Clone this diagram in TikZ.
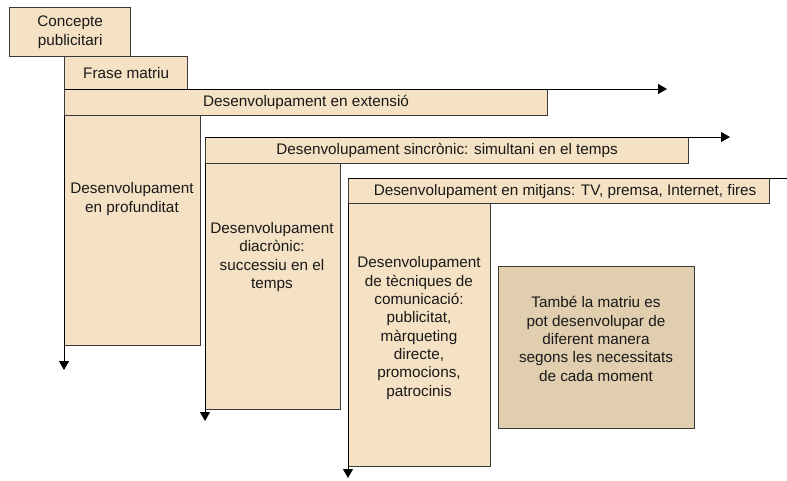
\documentclass[tikz,border=0pt]{standalone}
\usepackage{fontspec}
\setmainfont{Liberation Sans}
\usetikzlibrary{arrows.meta}
\definecolor{boxfill}{HTML}{F5E1C3}
\definecolor{tanfill}{HTML}{E0CEAE}
\definecolor{edge}{HTML}{3A3A3A}
\tikzset{
  box/.style={draw=edge, line width=1.2pt, fill=boxfill, inner sep=0pt, anchor=north west},
  lbl/.style={font=\fontsize{15.3}{18.3}\selectfont, align=center, text=black!90, inner sep=0pt},
  arr/.style={line width=0.9pt, -{Triangle[length=9pt,width=10pt]}},
}
\begin{document}
\begin{tikzpicture}[x=1pt,y=-1pt]
\useasboundingbox (0,0) rectangle (787,481);
% boxes
\node[box, minimum width=121pt, minimum height=49pt] (conc) at (9,7) {};
\node[lbl] (concT) at (conc.center) {Concepte\\publicitari};
\node[box, minimum width=123pt, minimum height=33pt] (frase) at (64,56) {};
\node[lbl] (fraseT) at (frase.center) {Frase matriu};
\node[box, minimum width=136pt, minimum height=230pt] (prof) at (64,115) {};
\node[box, minimum width=483pt, minimum height=26pt] (ext) at (64,89) {};
\node[lbl] (extT) at (ext.center) {Desenvolupament en extensió};
\node[lbl] (profT) at (132,199) {Desenvolupament\\en profunditat};
\node[box, minimum width=135pt, minimum height=246pt] (diac) at (205,163) {};
\node[box, minimum width=483pt, minimum height=26pt] (sinc) at (205,137) {};
\node[lbl] (sincT) at (sinc.center) {Desenvolupament sincrònic: simultani en el temps};
\node[lbl] (diacT) at (272,257) {Desenvolupament\\diacrònic:\\successiu en el\\temps};
\node[box, minimum width=142pt, minimum height=263pt] (tec) at (348,203) {};
\node[box, minimum width=421pt, minimum height=25pt] (mitj) at (348,178) {};
\node[lbl] (mitjT) at ([xshift=6pt]mitj.center) {Desenvolupament en mitjans: TV, premsa, Internet, fires};
\node[lbl] (tecT) at (419,328) {Desenvolupament\\de tècniques de\\comunicació:\\publicitat,\\màrqueting\\directe,\\promocions,\\patrocinis};
\node[box, fill=tanfill, minimum width=196pt, minimum height=162pt] (note) at (498,266) {};
\node[lbl] (noteT) at (596,339) {També la matriu es\\pot desenvolupar de\\diferent manera\\segons les necessitats\\de cada moment};
% arrow ends
\coordinate (extE) at (667,89);
\coordinate (sincE) at (730,137);
\coordinate (mitjE) at (787,178);
\coordinate (profE) at (64,370);
\coordinate (diacE) at (205,421);
\coordinate (tecE) at (348,478);
% arrows
\draw[arr] (ext.north west) -- (extE);
\draw[arr] (sinc.north west) -- (sincE);
\draw[line width=0.9pt] (mitj.north west) -- (mitjE);
\draw[arr] (prof.north west) -- (profE);
\draw[arr] (diac.north west) -- (diacE);
\draw[arr] (tec.north west) -- (tecE);
\end{tikzpicture}
\end{document}
